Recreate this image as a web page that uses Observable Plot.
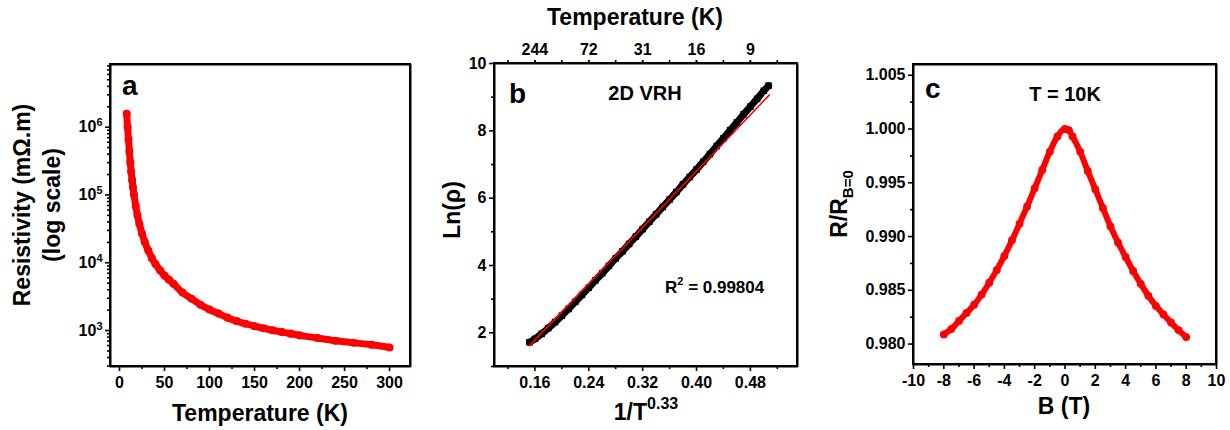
<!DOCTYPE html>
<html><head><meta charset="utf-8">
<script src="https://cdn.jsdelivr.net/npm/d3@7"></script>
<script src="https://cdn.jsdelivr.net/npm/@observablehq/plot@0.6"></script>
<style>
html,body{margin:0;padding:0;background:#fff;}
#fig{position:relative;width:1230px;height:430px;overflow:hidden;background:#fff;}
.panel{position:absolute;top:0;}
.axbox{position:absolute;border:2px solid #000;pointer-events:none;background:transparent;}
</style></head><body><div id="fig"></div>
<script>
// ---------- Panel a: resistivity vs temperature ----------
const tempA = [8,9,10,11,12,13,14,15,16,18,20,22,25,28,32,36,40,45,50,55,60,70,80,90,100,110,120,130,140,150,160,170,180,190,200,220,240,260,280,300];
const rhoA  = [1.58e6,1.0e6,6.6e5,4.37e5,3.02e5,2.19e5,1.66e5,1.29e5,1.02e5,6.9e4,5.0e4,3.8e4,2.7e4,2.04e4,1.51e4,1.17e4,9550,7760,6460,5620,4900,3630,2950,2400,2040,1780,1550,1380,1260,1160,1080,1010,955,900,850,776,708,661,617,562];
const ticksAx = [0,50,100,150,200,250,300];
const ticksAy = [1e3,1e4,1e5,1e6];

// ---------- Panel b: 2D VRH ----------
const invT = [0.152,0.16,0.17,0.18,0.19,0.20,0.21,0.22,0.23,0.24,0.25,0.26,0.27,0.28,0.29,0.30,0.31,0.32,0.33,0.34,0.35,0.36,0.37,0.38,0.39,0.40,0.41,0.42,0.43,0.44,0.45,0.46,0.47,0.48,0.49,0.50,0.507];
const lnRho = [1.72,1.82,1.97,2.14,2.32,2.51,2.71,2.92,3.13,3.34,3.56,3.77,3.99,4.21,4.42,4.64,4.86,5.08,5.30,5.52,5.74,5.96,6.18,6.41,6.63,6.85,7.08,7.31,7.55,7.78,8.02,8.25,8.49,8.72,8.95,9.19,9.34];
const fitX = [0.152, 0.508];
const fitY = [1.62, 9.06];
const ticksBx = [0.16,0.24,0.32,0.40,0.48];
const topLabels = ["244","72","31","16","9"];
const ticksBy = [2,4,6,8,10];

// ---------- Panel c: magnetoresistance ----------
const fieldB = [-8,-7.5,-7,-6.5,-6,-5.5,-5,-4.5,-4,-3.5,-3,-2.5,-2,-1.5,-1,-0.5,0,0.25,0.5,1,1.5,2,2.5,3,3.5,4,4.5,5,5.5,6,6.5,7,7.5,8];
const ratioR = [0.98090,0.98140,0.98215,0.98290,0.98365,0.98460,0.98570,0.98690,0.98820,0.98965,0.99120,0.99280,0.99450,0.99620,0.99790,0.99930,1.00000,0.99990,0.99930,0.99790,0.99610,0.99440,0.99265,0.99095,0.98945,0.98810,0.98680,0.98560,0.98450,0.98355,0.98275,0.98200,0.98130,0.98065];
const ticksCx = [-10,-8,-6,-4,-2,0,2,4,6,8,10];
const ticksCy = [0.980,0.985,0.990,0.995,1.000,1.005];

const RED = "#ff0000";
const FONT = '"Liberation Sans", Arial, Helvetica, sans-serif';
const baseStyle = {fontFamily: FONT, fontSize: "16px", fontWeight: "bold", background: "white", overflow: "visible", color: "black"};
const AX = {strokeWidth: 1.6, label: null, stroke: "black"};
const blank = () => "";

const fig = document.getElementById("fig");
function place(svg, left) {
  const d = document.createElement("div");
  d.className = "panel"; d.style.left = left + "px";
  d.appendChild(svg); fig.appendChild(d);
}
function label(svg, x, y, size, parts, opts = {}) {
  const t = d3.select(svg).append("text")
    .attr("x", x).attr("y", y)
    .attr("font-size", size).attr("font-weight", "bold")
    .attr("font-family", FONT).attr("fill", "black")
    .attr("text-anchor", opts.anchor || "middle");
  if (opts.rotate) t.attr("transform", `rotate(-90 ${x} ${y})`);
  for (const p of parts) {
    const s = t.append("tspan").text(p.text);
    if (p.size) s.attr("font-size", p.size);
    if (p.dy) s.attr("dy", p.dy);
  }
}
// axes box: a closed path through the domain corners, drawn by the plot's scales
function boxMark(xd, yd) {
  const corners = [[xd[0], yd[0]], [xd[1], yd[0]], [xd[1], yd[1]], [xd[0], yd[1]], [xd[0], yd[0]]];
  return Plot.line(corners, {x: d => d[0], y: d => d[1], stroke: "black", strokeWidth: 2, strokeLinejoin: "miter", strokeLinecap: "square"});
}
// the same box as a bordered overlay placed from the plot's scale ranges
function overlayBox(plot, left) {
  const xr = plot.scale("x").range, yr = plot.scale("y").range;
  const x0 = Math.min(...xr), x1 = Math.max(...xr), y0 = Math.min(...yr), y1 = Math.max(...yr);
  const b = document.createElement("div");
  b.className = "axbox";
  b.style.left = (left + x0 - 1) + "px";
  b.style.top = (y0 - 1) + "px";
  b.style.width = (x1 - x0 - 2) + "px";
  b.style.height = (y1 - y0 - 2) + "px";
  fig.appendChild(b);
}

// minor ticks (positions only)
const minorAx = d3.range(25, 300, 50);
const minorAy = [];
for (const dec of [100, 1e3, 1e4, 1e5, 1e6]) for (let k = 2; k <= 9; k++) { const v = k * dec; if (v > 295 && v < 8.4e6) minorAy.push(v); }
const minorBx = [0.12,0.20,0.28,0.36,0.44,0.52];
const allTopB = [0.12,0.16,0.20,0.24,0.28,0.32,0.36,0.40,0.44,0.48,0.52];
const minorBy = [1,3,5,7,9];
const minorCx = [-9,-7,-5,-3,-1,1,3,5,7,9];
const minorCy = [0.9825,0.9875,0.9925,0.9975,1.0025];

// ---------- Plot a ----------
const xdA = [-10, 323.3], ydA = [295, 8.4e6];
const dataA = tempA.map((t, i) => ({t, r: rhoA[i]}));
const plotA = Plot.plot({
  width: 420, height: 430, marginLeft: 110, marginRight: 10, marginTop: 64, marginBottom: 64,
  style: baseStyle,
  x: {domain: xdA},
  y: {type: "log", domain: ydA},
  marks: [
    Plot.axisX(ticksAx, {...AX, tickSize: 5, tickPadding: 5, tickFormat: d => String(d)}),
    Plot.axisX(minorAx, {...AX, tickSize: 3, tickFormat: blank}),
    Plot.axisY(ticksAy, {...AX, tickSize: 5, tickPadding: 3, tickFormat: d => String(Math.round(Math.log10(d)))}),
    Plot.axisY(minorAy, {...AX, tickSize: 3, tickFormat: blank}),
    Plot.line(dataA, {x: "t", y: "r", stroke: RED, strokeWidth: 7, curve: "monotone-x"}),
    Plot.dot(dataA, {x: "t", y: "r", r: 3.3, stroke: RED, strokeWidth: 1.5, fill: "none"}),
    boxMark(xdA, ydA)
  ]
});
d3.select(plotA).selectAll('g[aria-label="y-axis tick label"] text').each(function () {
  const e = this.textContent; if (!e) return;
  const t = d3.select(this); t.text(null);
  t.append("tspan").text("10");
  t.append("tspan").attr("dy", "-0.55em").attr("font-size", "11px").text(e);
});
label(plotA, 260, 421, 23, [{text: "Temperature (K)"}]);
label(plotA, 30, 205, 23, [{text: "Resistivity (mΩ.m)"}], {rotate: true});
label(plotA, 60, 205, 23, [{text: "(log scale)"}], {rotate: true});
label(plotA, 122, 95, 28, [{text: "a"}], {anchor: "start"});
place(plotA, 0);

// ---------- Plot b ----------
const xdB = [0.1, 0.55], ydB = [1, 10];
const dataB = invT.map((x, i) => ({x, y: lnRho[i]}));
const dataFit = fitX.map((x, i) => ({x, y: fitY[i]}));
const topMap = new Map(ticksBx.map((v, i) => [v, topLabels[i]]));
const plotB = Plot.plot({
  width: 410, height: 430, marginLeft: 74, marginRight: 33, marginTop: 63, marginBottom: 64,
  style: baseStyle,
  x: {domain: xdB},
  y: {domain: ydB},
  marks: [
    Plot.axisX(ticksBx, {...AX, tickSize: 5, tickPadding: 5, tickFormat: d3.format(".2f")}),
    Plot.axisX(minorBx, {...AX, tickSize: 3, tickFormat: blank}),
    Plot.axisX(ticksBx, {...AX, anchor: "top", tickSize: 4, tickPadding: 5, tickFormat: d => topMap.get(d)}),
    Plot.axisX(allTopB, {...AX, anchor: "top", tickSize: 4, tickFormat: blank}),
    Plot.axisY(ticksBy, {...AX, tickSize: 5, tickPadding: 3, tickFormat: d => String(d)}),
    Plot.axisY(minorBy, {...AX, tickSize: 3, tickFormat: blank}),
    Plot.line(dataB, {x: "x", y: "y", stroke: "black", strokeWidth: 7, curve: "monotone-x"}),
    Plot.dot(dataB, {x: "x", y: "y", symbol: "square", r: 3.7, fill: "black", stroke: "none"}),
    Plot.line(dataFit, {x: "x", y: "y", stroke: RED, strokeWidth: 1.6}),
    boxMark(xdB, ydB)
  ]
});
label(plotB, 215, 25, 23, [{text: "Temperature (K)"}]);
label(plotB, 226, 420, 23, [{text: "1/T"}, {text: "0.33", size: 16, dy: -11}]);
label(plotB, 40, 210, 23, [{text: "Ln(ρ)"}], {rotate: true});
label(plotB, 89, 103, 28, [{text: "b"}], {anchor: "start"});
label(plotB, 225, 100, 20, [{text: "2D VRH"}]);
label(plotB, 245, 293, 17, [{text: "R"}, {text: "2", size: 11, dy: -8}, {text: " = 0.99804", dy: 8}], {anchor: "start"});
place(plotB, 420);

// ---------- Plot c ----------
const xdC = [-10, 10], ydC = [0.9781, 1.006];
const dataC = fieldB.map((b, i) => ({b, r: ratioR[i]}));
const plotC = Plot.plot({
  width: 400, height: 430, marginLeft: 83, marginRight: 14, marginTop: 64, marginBottom: 66,
  style: baseStyle,
  x: {domain: xdC},
  y: {domain: ydC},
  marks: [
    Plot.axisX(ticksCx, {...AX, tickSize: 5, tickPadding: 5, tickFormat: d => String(d)}),
    Plot.axisX(minorCx, {...AX, tickSize: 3, tickFormat: blank}),
    Plot.axisY(ticksCy, {...AX, tickSize: 5, tickPadding: 3, tickFormat: d3.format(".3f")}),
    Plot.axisY(minorCy, {...AX, tickSize: 3, tickFormat: blank}),
    Plot.line(dataC, {x: "b", y: "r", stroke: RED, strokeWidth: 6, curve: "monotone-x"}),
    Plot.dot(dataC, {x: "b", y: "r", r: 3.2, stroke: RED, strokeWidth: 1.5, fill: "none"}),
    boxMark(xdC, ydC)
  ]
});
label(plotC, 234, 414, 23, [{text: "B (T)"}]);
label(plotC, 17, 204, 23, [{text: "R/R"}, {text: "B=0", size: 15, dy: 6}], {rotate: true});
label(plotC, 95, 98, 28, [{text: "c"}], {anchor: "start"});
label(plotC, 235, 101, 20, [{text: "T = 10K"}]);
place(plotC, 830);

overlayBox(plotA, 0);
overlayBox(plotB, 420);
overlayBox(plotC, 830);
</script></body></html>
